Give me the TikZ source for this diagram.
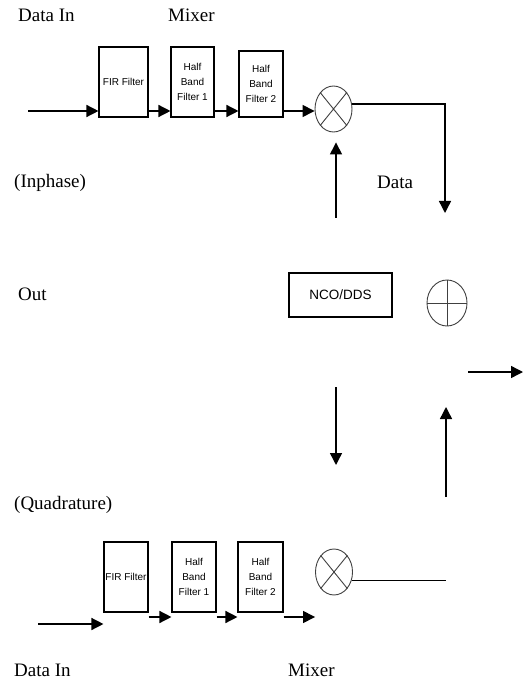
\documentclass[tikz,border=0pt]{standalone}
\usepackage{fontspec}
\setmainfont{Liberation Serif}
\setsansfont{Liberation Sans}
\usetikzlibrary{arrows.meta,shapes.geometric}

\tikzset{
  lbl/.style={anchor=west, inner sep=0pt, font=\fontsize{19}{22}\selectfont},
  filt/.style={draw, line width=1.1pt, inner sep=0pt, align=center, font=\sffamily\fontsize{10}{15}\selectfont},
  mixer/.style={draw=black!75, ellipse, line width=0.9pt, minimum width=37pt, minimum height=46pt, inner sep=0pt},
  sig/.style={line width=1.4pt},
  arr/.style={sig, -{Triangle[length=12pt,width=12pt]}}
}

\begin{document}
\begin{tikzpicture}[x=1pt, y=-1pt]
\useasboundingbox (0,0) rectangle (524,684);

\node[lbl] (dinI) at (18,15) {Data In};
\node[lbl] (mixlblI) at (168,15) {Mixer};
\node[lbl] (inph) at (14,183) {(Inphase)};
\node[lbl] (data) at (377,182) {Data};
\node[lbl] (out) at (18,294) {Out};
\node[lbl] (quad) at (14,505) {(Quadrature)};
\node[lbl] (dinQ) at (14,670) {Data In};
\node[lbl] (mixlblQ) at (288,670) {Mixer};

\node[filt, minimum width=49pt, minimum height=70pt] (firI) at (123.5,82) {FIR Filter};
\node[filt, minimum width=43pt, minimum height=70pt] (hb1I) at (192.5,82) {Half\\Band\\Filter 1};
\node[filt, minimum width=44pt, minimum height=66pt] (hb2I) at (261,84) {Half\\Band\\Filter 2};
\node[mixer] (mixI) at (333.5,109) {};
\draw[draw=black!75, line width=0.9pt] (mixI.north west) -- (mixI.south east) (mixI.north east) -- (mixI.south west);

\node[filt, minimum width=103pt, minimum height=44pt, font=\sffamily\fontsize{13.5}{16}\selectfont] (nco) at (340.5,295) {NCO/DDS};
\node[mixer, minimum width=40pt] (add) at (447,303) {};
\draw[draw=black!75, line width=0.9pt] (add.north) -- (add.south) (add.west) -- (add.east);

\node[filt, minimum width=44pt, minimum height=70pt] (firQ) at (126,577) {FIR Filter};
\node[filt, minimum width=44pt, minimum height=70pt] (hb1Q) at (194,577) {Half\\Band\\Filter 1};
\node[filt, minimum width=45pt, minimum height=70pt] (hb2Q) at (260.5,577) {Half\\Band\\Filter 2};
\node[mixer] (mixQ) at (334,572) {};
\draw[draw=black!75, line width=0.9pt] (mixQ.north west) -- (mixQ.south east) (mixQ.north east) -- (mixQ.south west);

\coordinate (inI) at (28,111);
\draw[arr] (inI) -- (firI.west |- inI);
\draw[arr] (firI.east |- inI) -- (hb1I.west |- inI);
\draw[arr] (hb1I.east |- inI) -- (hb2I.west |- inI);
\draw[arr] (hb2I.east |- inI) -- (mixI.west |- inI);

\coordinate (cornI) at (445,103);
\coordinate (sumI) at (445,213);
\draw[arr] (mixI.15) -- (mixI.15 -| cornI) -- (sumI);

\coordinate (ncoI) at (336,218);
\draw[arr, shorten >=10pt] (ncoI) -- (ncoI |- mixI.south);

\coordinate (ncoQ) at (336,387);
\coordinate (ncoQend) at (336,465);
\draw[arr] (ncoQ) -- (ncoQend);

\coordinate (outA) at (468,372);
\coordinate (outB) at (523,372);
\draw[arr] (outA) -- (outB);

\coordinate (cornQ) at (446,581);
\draw[sig] (mixQ.-25) -- (mixQ.-25 -| cornQ);
\coordinate (upQ) at (446,497);
\coordinate (sumQ) at (446,407);
\draw[arr] (upQ) -- (sumQ);

\coordinate (inQ) at (38,624);
\coordinate (rowQ) at (0,617);
\draw[arr] (inQ) -- (firQ.west |- inQ);
\draw[arr] (firQ.east |- rowQ) -- (hb1Q.west |- rowQ);
\draw[arr] (hb1Q.east |- rowQ) -- (hb2Q.west |- rowQ);
\draw[arr] (hb2Q.east |- rowQ) -- (mixQ.west |- rowQ);
\end{tikzpicture}
\end{document}
